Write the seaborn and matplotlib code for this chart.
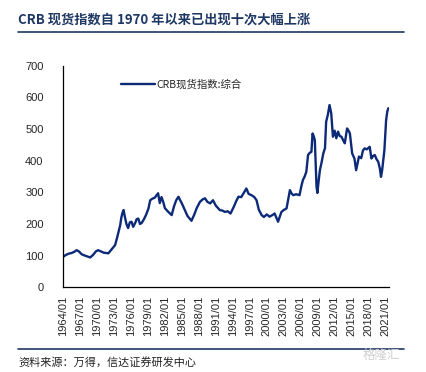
import matplotlib
matplotlib.use("Agg")
import matplotlib.pyplot as plt
from matplotlib.lines import Line2D
import pandas as pd
import seaborn as sns

# data (fractional year, index value)
years = [1964.0, 1964.5, 1965.0, 1965.5, 1966.0, 1966.4, 1966.8, 1967.3, 1968.0, 1968.8,
         1969.3, 1969.8, 1970.2, 1970.7, 1971.2, 1971.7, 1972.0, 1972.5, 1973.2, 1973.6,
         1974.1, 1974.3, 1974.5, 1974.7, 1974.9, 1975.2, 1975.5, 1975.8, 1976.1, 1976.4,
         1976.8, 1977.0, 1977.3, 1977.6, 1977.9, 1978.3, 1978.7, 1979.1, 1979.4, 1979.8,
         1980.2, 1980.5, 1980.8, 1981.1, 1981.4, 1981.7, 1982.0, 1982.5, 1983.2, 1983.6,
         1984.0, 1984.4, 1984.7, 1985.0, 1985.5, 1986.0, 1986.7, 1987.2, 1987.6, 1988.2,
         1988.7, 1989.1, 1989.5, 1990.0, 1990.5, 1991.0, 1991.7, 1992.2, 1992.6, 1993.1,
         1993.6, 1994.2, 1994.6, 1995.0, 1995.5, 1996.0, 1996.4, 1996.8, 1997.3, 1997.8,
         1998.2, 1998.6, 1999.1, 1999.5, 2000.0, 2000.5, 2001.0, 2001.4, 2002.0, 2002.6,
         2003.0, 2003.5, 2004.1, 2004.4, 2004.7, 2005.2, 2005.8, 2006.1, 2006.4, 2006.7,
         2007.0, 2007.3, 2007.6, 2007.9, 2008.1, 2008.3, 2008.5, 2008.8, 2008.95, 2009.2,
         2009.4, 2009.7, 2010.0, 2010.3, 2010.5, 2010.8, 2011.1, 2011.4, 2011.7, 2012.0,
         2012.3, 2012.6, 2012.9, 2013.2, 2013.5, 2013.8, 2014.2, 2014.5, 2014.7, 2015.1,
         2015.5, 2015.8, 2016.3, 2016.7, 2017.0, 2017.3, 2017.7, 2018.2, 2018.5, 2018.8,
         2019.1, 2019.4, 2019.7, 2020.0, 2020.2, 2020.4, 2020.8, 2021.1, 2021.3, 2021.5]
crb = [96, 102, 106, 108, 112, 117, 113, 104, 99, 94,
       102, 113, 117, 113, 109, 108, 107, 118, 133, 160,
       196, 220, 235, 244, 225, 200, 187, 205, 207, 191,
       205, 215, 217, 200, 203, 215, 230, 249, 275, 280,
       283, 290, 297, 266, 285, 270, 250, 240, 228, 255,
       275, 286, 275, 265, 245, 225, 210, 230, 249, 270,
       278, 281, 270, 265, 275, 258, 244, 242, 238, 240,
       233, 255, 272, 286, 285, 300, 312, 295, 291, 285,
       275, 245, 228, 222, 230, 223, 228, 233, 207, 238,
       244, 249, 307, 296, 291, 294, 291, 318, 339, 350,
       365, 418, 425, 428, 486, 478, 465, 318, 298, 340,
       370, 395, 423, 440, 523, 545, 576, 550, 476, 495,
       471, 492, 478, 476, 465, 455, 502, 494, 486, 423,
       407, 370, 413, 408, 432, 439, 436, 444, 407, 415,
       418, 405, 397, 375, 349, 370, 434, 528, 555, 566]
tick_years = list(range(1964, 2022, 3))
tick_labels = [f"{y}/01" for y in tick_years]

df = pd.DataFrame({"year": years, "CRB现货指数:综合": crb})

sns.set_style("white")
plt.rcParams["font.family"] = ["Liberation Sans", "Noto Sans CJK SC", "DejaVu Sans"]

navy = "#0C2A78"
fig = plt.figure(figsize=(4.26, 3.72), dpi=100)
ax = fig.add_axes([0.148, 0.228, 0.765, 0.595])

sns.lineplot(data=df, x="year", y="CRB现货指数:综合", ax=ax, color=navy,
             linewidth=1.7, estimator=None, label="CRB现货指数:综合")

ax.set_xlim(1964, 2021.6)
ax.set_ylim(0, 700)
ax.set_yticks(range(0, 701, 100))
ax.set_xticks(tick_years)
ax.set_xticklabels(tick_labels, rotation=90)
ax.set_xlabel("")
ax.set_ylabel("")
for s in ["top", "right"]:
    ax.spines[s].set_visible(False)
for s in ["left", "bottom"]:
    ax.spines[s].set_color("black")
    ax.spines[s].set_linewidth(0.9)
ax.tick_params(axis="y", direction="in", length=2, width=0.8, pad=14, labelsize=8)
ax.tick_params(axis="x", direction="in", length=3, width=0.8, pad=6, labelsize=8)

leg = ax.legend(loc="upper left", bbox_to_anchor=(0.15, 0.98), frameon=False,
                fontsize=7.5, handlelength=3.2, handletextpad=0.2,
                prop={"family": ["Noto Sans CJK SC"], "size": 7.5})

# title, rules and source note
fig.text(18 / 426, 1 - 20 / 372, "CRB 现货指数自 1970 年以来已出现十次大幅上涨",
         fontsize=9.5, fontweight="bold", color="#1F3864", va="center",
         family=["Noto Sans CJK SC", "DejaVu Sans"])
fig.add_artist(Line2D([18 / 426, 404 / 426], [1 - 32 / 372, 1 - 32 / 372],
                      color="#1F3864", linewidth=1.2))
fig.add_artist(Line2D([18 / 426, 404 / 426], [1 - 349 / 372, 1 - 349 / 372],
                      color="#1F3864", linewidth=1.2))
fig.text(18 / 426, 1 - 362 / 372, "资料来源：万得，信达证券研发中心",
         fontsize=8, style="italic", color="#222222", va="center",
         family=["Noto Sans CJK SC", "DejaVu Sans"])
fig.text(400 / 426, 1 - 355 / 372, "格隆汇", fontsize=9, color="#D0D0D0",
         ha="right", va="center", family=["Noto Sans CJK SC", "DejaVu Sans"])

fig.savefig("out.png", dpi=100)
